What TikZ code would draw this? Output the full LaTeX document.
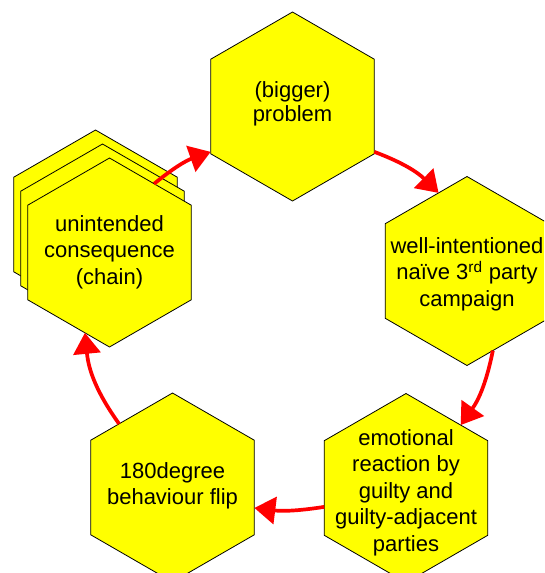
\documentclass[tikz,border=0pt]{standalone}
\usepackage{fontspec}
\setmainfont{Liberation Sans}
\usetikzlibrary{shapes.geometric,arrows.meta}
\definecolor{hexfill}{RGB}{255,255,0}
\definecolor{cyclered}{RGB}{255,0,0}
\begin{document}
\begin{tikzpicture}[x=1pt,y=1pt,
  hexa/.style={regular polygon, regular polygon sides=6, shape border rotate=30,
    minimum size=189pt, inner sep=0pt, outer sep=0pt,
    draw=black, line width=0.8pt, fill=hexfill},
  txt/.style={align=center, inner sep=0pt, text=black,
    font=\fontsize{22}{26.5}\selectfont},
  arr/.style={draw=cyclered, line width=3.7pt,
    -{Triangle[length=21pt,width=27pt]}}]
\clip (0,0) rectangle (544,-573);
\fill[white] (0,0) rectangle (544,-573);

% stacked hexagons for the consequence chain (back to front)
\node[hexa] (cons3) at (95.5,-224.5) {};
\node[hexa] (cons2) at (102.5,-238.5) {};
\node[hexa] (cons)  at (109.5,-252.5) {};

\node[hexa] (prob) at (292.5,-106.5) {};
\node[hexa] (camp) at (467,-271) {};
\node[hexa] (emo)  at (406,-488) {};
\node[hexa] (flip) at (172.5,-487.5) {};

% labels
\node[txt] (cons-t) at ([yshift=0.5pt]cons.center) {unintended\\consequence\\(chain)};
\node[txt, font=\fontsize{22}{24}\selectfont] (prob-t) at ([yshift=2.2pt]prob.center) {(bigger)\\problem};
\node[txt] (camp-t) at ([yshift=-3pt]camp.center) {well-intentioned\\na\"ive 3\textsuperscript{rd} party\\campaign};
\node[txt] (emo-t)  at ([yshift=-4.5pt]emo.center) {emotional\\reaction by\\guilty and\\guilty-adjacent\\parties};
\node[txt] (flip-t) at ([yshift=1.5pt]flip.center) {180degree\\behaviour flip};

% cycle of connectors
\draw[arr] (cons.57)  to[bend left=10] (prob.209);
\draw[arr] (prob.331) to[bend left=12] (camp.110);
\draw[arr] (camp.288) to[bend left=12] (emo.49);
\draw[arr] (emo.193)  to[bend left=8]  (flip.346);
\draw[arr] (flip.130) to[bend left=15] (cons.253);
\end{tikzpicture}
\end{document}
